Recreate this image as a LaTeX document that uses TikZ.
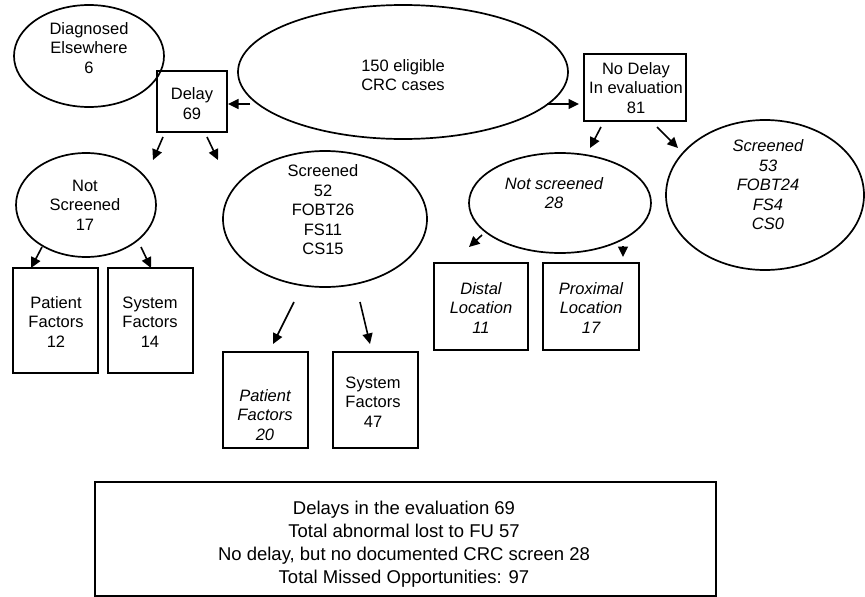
\documentclass[tikz,border=0pt]{standalone}
\usepackage{fontspec}
\setmainfont{Liberation Sans}
\usetikzlibrary{shapes.geometric,arrows.meta}
\tikzset{
  shapeline/.style={draw=black, line width=1.7pt},
  ell/.style={shapeline, ellipse, inner sep=0pt},
  boxnode/.style={shapeline, rectangle, inner sep=0pt},
  txt/.style={align=center, inner sep=0pt, font=\fontsize{16.5}{19.5}\selectfont},
  itxt/.style={txt, font=\fontsize{16.5}{19.5}\selectfont\itshape},
  bigtxt/.style={align=center, inner sep=0pt, font=\fontsize{18.5}{23}\selectfont},
  arr/.style={line width=1.6pt, -{Triangle[length=10.5pt,width=10pt]}}
}
\begin{document}
\begin{tikzpicture}[x=1pt,y=-1pt]
\useasboundingbox (0,0) rectangle (865,597);
% ellipses
\node[ell, minimum width=150pt, minimum height=102pt] (diag) at (89,56) {};
\node[ell, minimum width=330pt, minimum height=134pt] (elig) at (403,72) {};
\node[ell, minimum width=198pt, minimum height=150pt] (scrR) at (765,195) {};
\node[ell, minimum width=182pt, minimum height=100pt] (notscrR) at (560,203) {};
\node[ell, minimum width=140pt, minimum height=104pt] (notscrL) at (86,205) {};
\node[ell, minimum width=204pt, minimum height=136pt] (scrM) at (325,219) {};
% boxes
\node[boxnode, minimum width=70pt, minimum height=61pt] (delay) at (192,101.5) {};
\node[boxnode, minimum width=102pt, minimum height=67pt] (nodelay) at (635,87.5) {};
\node[boxnode, minimum width=94pt, minimum height=87pt] (distal) at (481,306.5) {};
\node[boxnode, minimum width=96pt, minimum height=87pt] (prox) at (591,306.5) {};
\node[boxnode, minimum width=85pt, minimum height=105pt] (pat12) at (55.5,320.5) {};
\node[boxnode, minimum width=85pt, minimum height=105pt] (sys14) at (150.5,320.5) {};
\node[boxnode, minimum width=85pt, minimum height=96pt] (pat20) at (265.5,400) {};
\node[boxnode, minimum width=85pt, minimum height=96pt] (sys47) at (375.5,400) {};
\node[boxnode, minimum width=621pt, minimum height=114pt] (summary) at (405.5,539) {};
% texts
\node[txt] (tdiag) at (89,48) {Diagnosed\\Elsewhere\\6};
\node[txt] (telig) at (403,75) {150 eligible\\CRC cases};
\node[itxt] (tscrR) at (768,185) {Screened\\53\\FOBT24\\FS4\\CS0};
\node[itxt] (tnotscrR) at (554,193) {Not screened\\28};
\node[txt] (tnotscrL) at (85,205) {Not\\Screened\\17};
\node[txt] (tscrM) at (323,210) {Screened\\52\\FOBT26\\FS11\\CS15};
\node[txt] (tdelay) at (192,103.5) {Delay\\69};
\node[txt] (tnodelay) at (636,88) {No Delay\\In evaluation\\81};
\node[itxt] (tdistal) at (481,308) {Distal\\Location\\11};
\node[itxt] (tprox) at (591,308) {Proximal\\Location\\17};
\node[txt] (tpat12) at (56,322) {Patient\\Factors\\12};
\node[txt] (tsys14) at (150,322) {System\\Factors\\14};
\node[itxt] (tpat20) at (265,415) {Patient\\Factors\\20};
\node[txt] (tsys47) at (373,402) {System\\Factors\\47};
\node[bigtxt] (tsummary) at (404,544) {Delays in the evaluation 69\\Total abnormal lost to FU 57\\No delay, but no documented CRC screen 28\\Total Missed Opportunities: 97};
% arrow coordinates
\coordinate (a1s) at (250,104); \coordinate (a1e) at (228,104);
\coordinate (a2s) at (547,104); \coordinate (a2e) at (579,104);
\coordinate (a3s) at (163,137); \coordinate (a3e) at (153,160);
\coordinate (a4s) at (207,137); \coordinate (a4e) at (218,160);
\coordinate (a5s) at (42,247); \coordinate (a5e) at (31,268);
\coordinate (a6s) at (141,247); \coordinate (a6e) at (151,268);
\coordinate (a7s) at (294,302); \coordinate (a7e) at (273,344);
\coordinate (a8s) at (360,302); \coordinate (a8e) at (370,344);
\coordinate (a9s) at (601,127); \coordinate (a9e) at (590,148);
\coordinate (a10s) at (657,127); \coordinate (a10e) at (678,148);
\coordinate (a11s) at (482,235); \coordinate (a11e) at (469,247);
\coordinate (a12s) at (623,246); \coordinate (a12e) at (623,257);
\draw[arr] (a1s) -- (a1e);
\draw[arr] (a2s) -- (a2e);
\draw[arr] (a3s) -- (a3e);
\draw[arr] (a4s) -- (a4e);
\draw[arr] (a5s) -- (a5e);
\draw[arr] (a6s) -- (a6e);
\draw[arr] (a7s) -- (a7e);
\draw[arr] (a8s) -- (a8e);
\draw[arr] (a9s) -- (a9e);
\draw[arr] (a10s) -- (a10e);
\draw[arr] (a11s) -- (a11e);
\draw[arr] (a12s) -- (a12e);
\end{tikzpicture}
\end{document}
